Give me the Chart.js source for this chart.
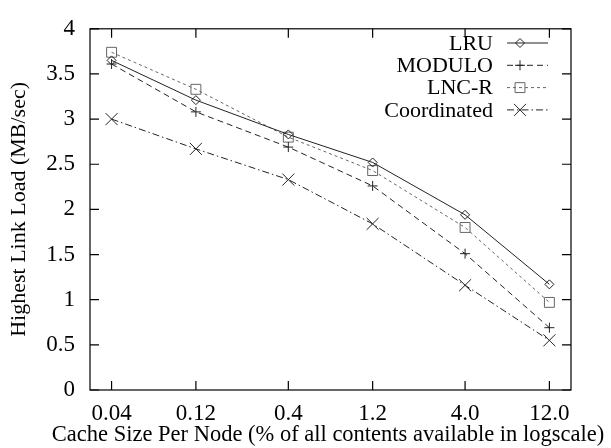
<!DOCTYPE html>
<html>
<head>
<meta charset="utf-8">
<script src="https://cdn.jsdelivr.net/npm/chart.js"></script>
<style>
  html, body { margin: 0; padding: 0; background: #fff; }
  canvas { display: block; }
</style>
</head>
<body>
<canvas id="chartArea" width="611" height="448"></canvas>
<script>
// cache size per node (% of all contents), plotted on a log axis
var cacheSizes = [0.04, 0.12, 0.4, 1.2, 4.0, 12.0];
var sizeLabels = ['0.04', '0.12', '0.4', '1.2', '4.0', '12.0'];

// highest link load in MB/sec
var lru = [3.65, 3.21, 2.83, 2.52, 1.94, 1.17];
var modulo = [3.61, 3.08, 2.69, 2.26, 1.51, 0.69];
var lncr = [3.74, 3.33, 2.80, 2.43, 1.80, 0.97];
var coordinated = [3.00, 2.67, 2.33, 1.84, 1.16, 0.55];

var yTicks = [0, 0.5, 1, 1.5, 2, 2.5, 3, 3.5, 4];

var xTitle = 'Cache Size Per Node (% of all contents available in logscale)';

var FONT = 'Liberation Serif, Times New Roman, serif';

function points(values) {
    return values.map(function (v, i) { return { x: cacheSizes[i], y: v }; });
}

function series(label, values, color, dash, style, radius) {
    return {
        label: label,
        data: points(values),
        borderColor: color,
        borderWidth: 1,
        borderDash: dash,
        pointStyle: style,
        pointRadius: radius,
        pointBorderColor: color,
        pointBorderWidth: 1,
        pointBackgroundColor: 'rgba(0,0,0,0)',
        tension: 0,
        fill: false
    };
}

// simple marker drawing for the legend samples
function drawMarker(ctx, style, r, x, y) {
    ctx.beginPath();
    if (style === 'rectRot') {
        ctx.moveTo(x, y - r); ctx.lineTo(x + r, y); ctx.lineTo(x, y + r); ctx.lineTo(x - r, y); ctx.closePath();
    } else if (style === 'rect') {
        var s = r * Math.SQRT1_2;
        ctx.rect(x - s, y - s, 2 * s, 2 * s);
    } else if (style === 'cross') {
        ctx.moveTo(x - r, y); ctx.lineTo(x + r, y); ctx.moveTo(x, y - r); ctx.lineTo(x, y + r);
    } else if (style === 'crossRot') {
        var d = r * Math.SQRT1_2;
        ctx.moveTo(x - d, y - d); ctx.lineTo(x + d, y + d); ctx.moveTo(x + d, y - d); ctx.lineTo(x - d, y + d);
    }
    ctx.stroke();
}

// gnuplot style frame: box round the plot, ticks pointing inwards on all sides
var framePlugin = {
    id: 'frame',
    afterDatasetsDraw: function (chart) {
        var ctx = chart.ctx, a = chart.chartArea;
        var xs = chart.scales.x, ys = chart.scales.y;
        var t = 9;
        ctx.save();
        ctx.strokeStyle = '#000';
        ctx.lineWidth = 1.2;
        ctx.setLineDash([]);
        ctx.strokeRect(a.left, a.top, a.right - a.left, a.bottom - a.top);
        ctx.beginPath();
        xs.ticks.forEach(function (tk) {
            var px = xs.getPixelForValue(tk.value);
            ctx.moveTo(px, a.bottom); ctx.lineTo(px, a.bottom - t);
            ctx.moveTo(px, a.top); ctx.lineTo(px, a.top + t);
        });
        ys.ticks.forEach(function (tk) {
            var py = ys.getPixelForValue(tk.value);
            ctx.moveTo(a.left, py); ctx.lineTo(a.left + t, py);
            ctx.moveTo(a.right, py); ctx.lineTo(a.right - t, py);
        });
        ctx.stroke();

        // x axis title runs wider than the plot, so it is drawn here unclipped
        ctx.font = '22.5px ' + FONT;
        ctx.fillStyle = '#000';
        ctx.textAlign = 'center';
        ctx.textBaseline = 'middle';
        ctx.fillText(xTitle, 328, 435);
        ctx.restore();
    }
};

// legend inside the top right corner: label right aligned, line sample after it
var keyPlugin = {
    id: 'key',
    afterDraw: function (chart) {
        var ctx = chart.ctx;
        var textRight = 493, lineStart = 507, lineEnd = 548, markX = 520;
        var y0 = 43, step = 22.3;
        ctx.save();
        ctx.font = '22px ' + FONT;
        ctx.textAlign = 'right';
        ctx.textBaseline = 'middle';
        chart.data.datasets.forEach(function (ds, i) {
            var y = y0 + i * step;
            ctx.fillStyle = '#000';
            ctx.fillText(ds.label, textRight, y + 1);
            ctx.strokeStyle = ds.borderColor;
            ctx.lineWidth = 1;
            ctx.setLineDash(ds.borderDash || []);
            ctx.beginPath();
            ctx.moveTo(lineStart, y); ctx.lineTo(lineEnd, y);
            ctx.stroke();
            ctx.setLineDash([]);
            drawMarker(ctx, ds.pointStyle, ds.pointRadius, markX, y);
        });
        ctx.restore();
    }
};

var ctx = document.getElementById('chartArea').getContext('2d');
var myChart = new Chart(ctx, {
    type: 'line',
    data: {
        datasets: [
            series('LRU', lru, '#222', [], 'rectRot', 4.5),
            series('MODULO', modulo, '#222', [6, 4], 'cross', 5),
            series('LNC-R', lncr, '#666', [3, 3], 'rect', 7),
            series('Coordinated', coordinated, '#222', [7, 3, 1.5, 3], 'crossRot', 8.5)
        ]
    },
    options: {
        responsive: false,
        animation: false,
        layout: { padding: { top: 13, right: 40, bottom: 0, left: 0 } },
        plugins: {
            legend: { display: false },
            tooltip: { enabled: false }
        },
        scales: {
            x: {
                type: 'logarithmic',
                min: 0.0302,
                max: 15.9,
                grid: { display: false, drawTicks: false },
                border: { display: false },
                afterBuildTicks: function (scale) {
                    scale.ticks = cacheSizes.map(function (v) { return { value: v }; });
                },
                afterFit: function (scale) { scale.height = 58; },
                ticks: {
                    autoSkip: false,
                    maxRotation: 0,
                    padding: 10,
                    color: '#000',
                    font: { family: FONT, size: 23 },
                    callback: function (value, index) { return sizeLabels[index]; }
                },
                title: { display: false }
            },
            y: {
                min: 0,
                max: 4,
                grid: { display: false, drawTicks: false },
                border: { display: false },
                afterBuildTicks: function (scale) {
                    scale.ticks = yTicks.map(function (v) { return { value: v }; });
                },
                afterFit: function (scale) { scale.width = 90; },
                ticks: {
                    padding: 15,
                    color: '#000',
                    font: { family: FONT, size: 23 },
                    callback: function (value) { return String(value); }
                },
                title: {
                    display: true,
                    text: 'Highest Link Load (MB/sec)',
                    color: '#000',
                    font: { family: FONT, size: 22 },
                    padding: { top: 6, bottom: 0 }
                }
            }
        }
    },
    plugins: [framePlugin, keyPlugin]
});
</script>
</body>
</html>
